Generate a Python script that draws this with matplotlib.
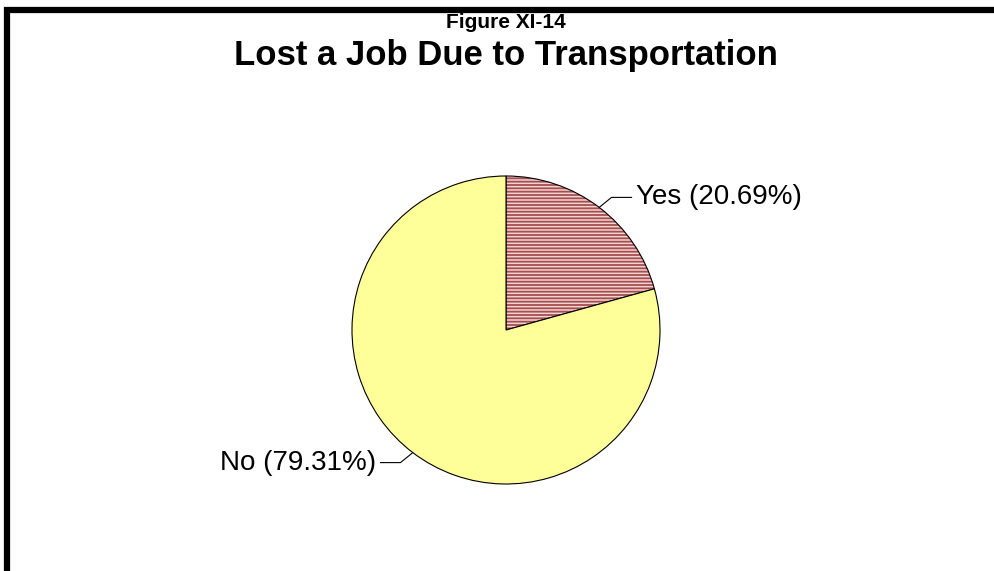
import numpy as np
import matplotlib.pyplot as plt
from matplotlib.patches import Rectangle

plt.rcParams['font.family'] = ['Liberation Sans', 'DejaVu Sans']
plt.rcParams['hatch.linewidth'] = 1.3

labels = ['Yes', 'No']
values = [20.69, 79.31]
face_colors = ['#F2D4D4', '#FFFF99']
hatches = ['-----', '']

fig = plt.figure(figsize=(9.95, 5.71), dpi=100)

# thick frame on top and left
fig.patches.append(Rectangle((7 / 995, -0.1), 1.2, (571 - 10) / 571 + 0.1,
                             transform=fig.transFigure, fill=False,
                             edgecolor='black', linewidth=4.5))

fig.text(0.5086, 1 - 22 / 571, 'Figure XI-14', ha='center', va='center',
         fontsize=15, fontweight='bold')
fig.text(0.5086, 1 - 55 / 571, 'Lost a Job Due to Transportation', ha='center',
         va='center', fontsize=25, fontweight='bold')

ax = fig.add_axes([(506 - 154) / 995, (571 - 330 - 154) / 571, 308 / 995, 308 / 571])
wedges, _ = ax.pie(values, colors=face_colors, startangle=90, counterclock=False,
                   wedgeprops=dict(edgecolor='black', linewidth=0.8))
for w, h in zip(wedges, hatches):
    if h:
        w.set_hatch(h)
        w._hatch_color = (0.66, 0.3, 0.3, 1.0)
ax.set_xlim(-1, 1)
ax.set_ylim(-1, 1)
ax.set_aspect('equal')
ax.axis('off')

for w, lab, val in zip(wedges, labels, values):
    ang = np.deg2rad((w.theta1 + w.theta2) / 2)
    x0, y0 = np.cos(ang), np.sin(ang)
    sx = np.sign(x0)
    x1, y1 = x0 + sx * 0.08, y0 + np.sign(y0) * 0.065
    x2 = x1 + sx * 0.13
    ax.plot([x0, x1, x2], [y0, y1, y1], color='black', linewidth=0.8, clip_on=False)
    ax.text(x2 + sx * 0.03, y1, f'{lab} ({val:.2f}%)', ha='left' if sx > 0 else 'right',
            va='center', fontsize=20)

fig.savefig('out.png', dpi=100)
